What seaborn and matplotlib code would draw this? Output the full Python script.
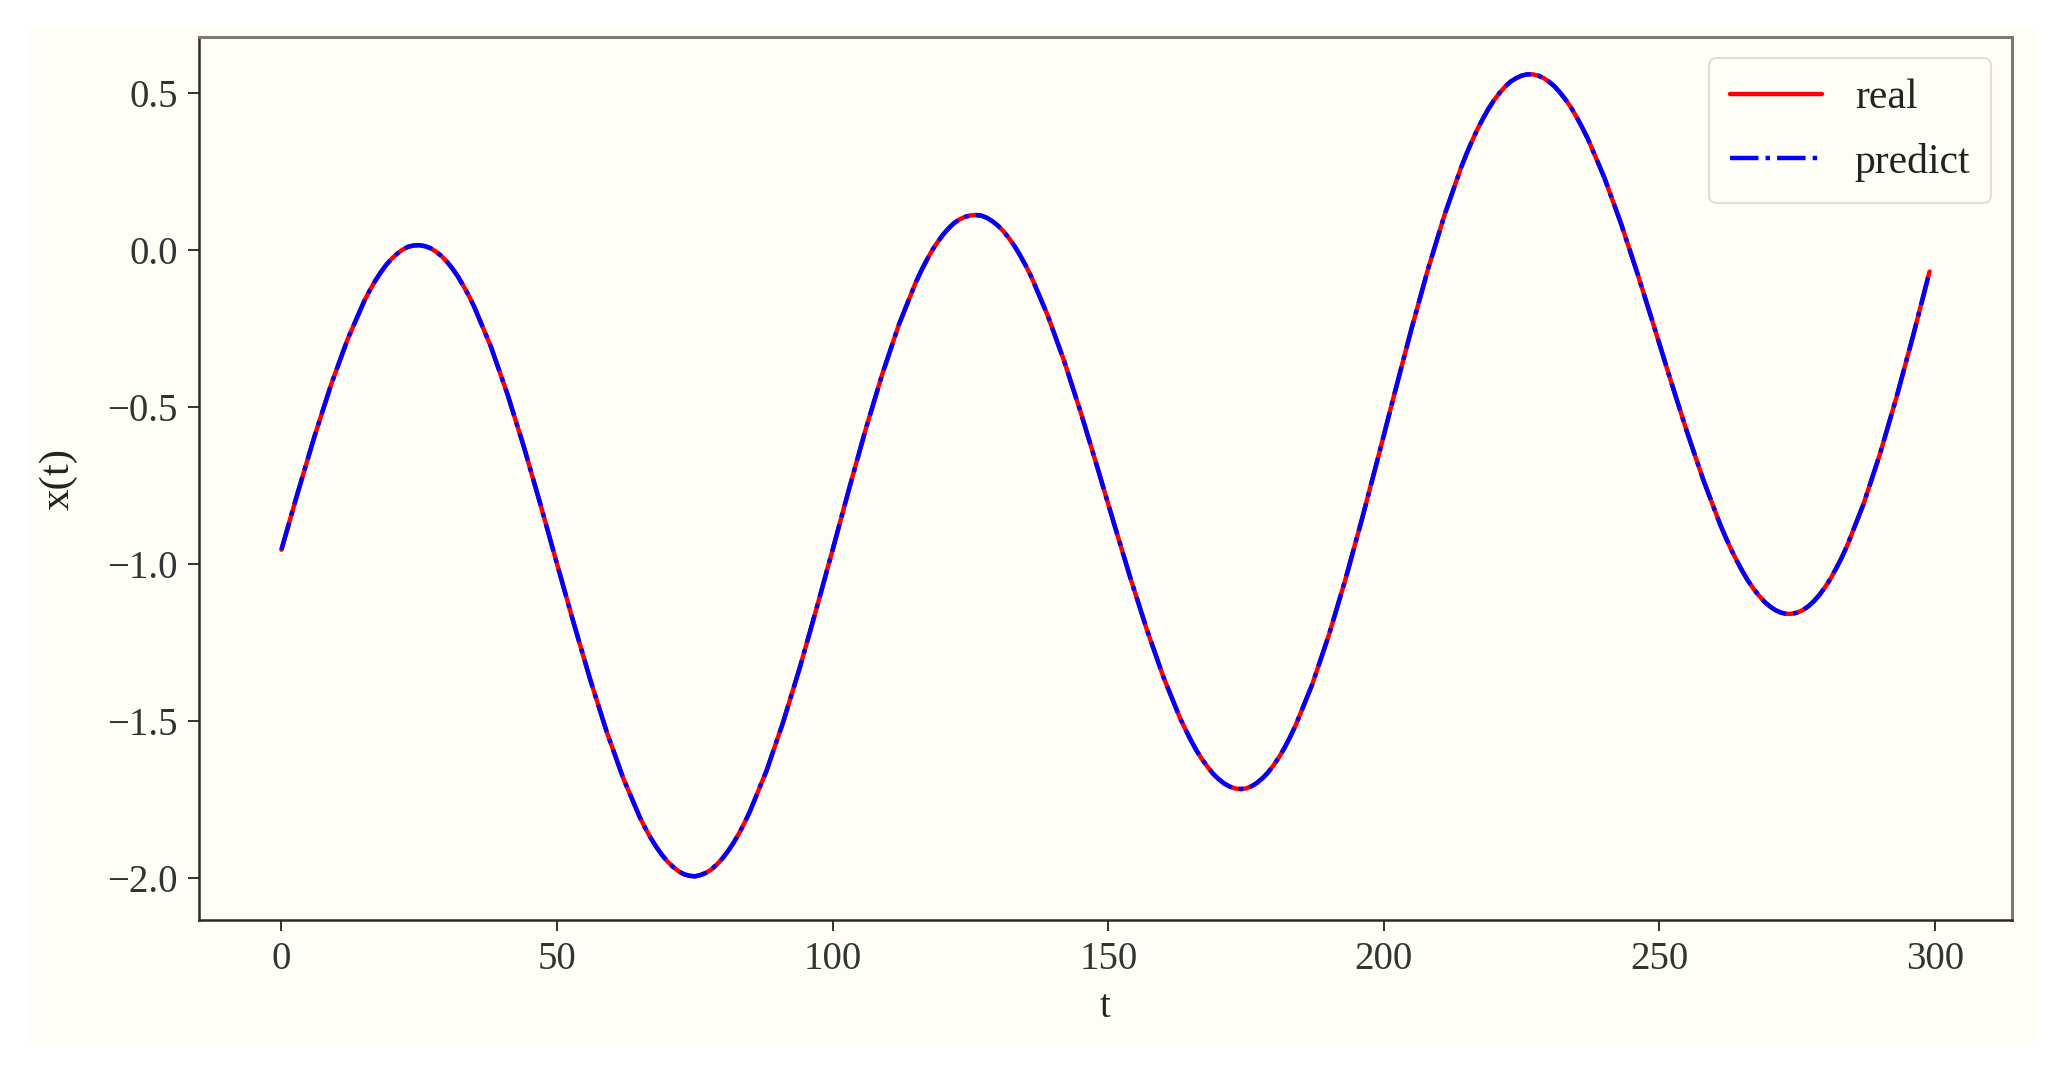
import matplotlib
matplotlib.use("Agg")
import matplotlib.pyplot as plt
from matplotlib.patches import Rectangle
import seaborn as sns
import pandas as pd

# ---- data (denser readings near the turning points) ----
t_values = [0, 3, 6, 9, 12,
            15, 16, 17, 18, 19, 20, 21, 22, 23, 24, 25, 26, 27, 28, 29, 30, 31, 32, 33, 34, 35,
            38, 41, 44, 47, 50, 53, 56, 59, 62,
            65, 66, 67, 68, 69, 70, 71, 72, 73, 74, 75, 76, 77, 78, 79, 80, 81, 82, 83, 84, 85,
            88, 91, 94, 97, 100, 103, 106, 109, 112,
            115, 116, 117, 118, 119, 120, 121, 122, 123, 124, 125, 126, 127, 128, 129, 130, 131, 132, 133, 134, 135, 136,
            139, 142, 145, 148, 151, 154, 157, 160, 163,
            164, 165, 166, 167, 168, 169, 170, 171, 172, 173, 174, 175, 176, 177, 178, 179, 180, 181, 182, 183, 184,
            187, 190, 193, 196, 199, 202, 205, 208, 211, 214,
            215, 216, 217, 218, 219, 220, 221, 222, 223, 224, 225, 226, 227, 228, 229, 230, 231, 232, 233, 234, 235, 236, 237,
            240, 243, 246, 249, 252, 255, 258, 261,
            262, 263, 264, 265, 266, 267, 268, 269, 270, 271, 272, 273, 274, 275, 276, 277, 278, 279, 280, 281, 282, 283, 284,
            287, 290, 293, 296, 299]

real_values = [-0.955, -0.771, -0.594, -0.430, -0.285,
               -0.164, -0.130, -0.099, -0.072, -0.048, -0.028, -0.012, 0.001, 0.010, 0.014, 0.015,
               0.012, 0.006, -0.005, -0.019, -0.037, -0.059, -0.084, -0.114, -0.146, -0.182,
               -0.308, -0.459, -0.628, -0.811, -1.000, -1.187, -1.367, -1.534, -1.682,
               -1.806, -1.841, -1.873, -1.901, -1.926, -1.947, -1.964, -1.978, -1.988, -1.993, -1.995,
               -1.991, -1.984, -1.973, -1.957, -1.938, -1.915, -1.889, -1.859, -1.825, -1.788,
               -1.659, -1.505, -1.333, -1.147, -0.955, -0.760, -0.571, -0.396, -0.239,
               -0.107, -0.069, -0.035, -0.003, 0.024, 0.048, 0.068, 0.085, 0.097, 0.105, 0.110,
               0.111, 0.109, 0.102, 0.091, 0.077, 0.059, 0.037, 0.012, -0.017, -0.049, -0.084,
               -0.208, -0.354, -0.517, -0.691, -0.869, -1.044, -1.209, -1.360, -1.490,
               -1.527, -1.562, -1.594, -1.622, -1.646, -1.668, -1.685, -1.699, -1.709, -1.715, -1.717,
               -1.715, -1.708, -1.697, -1.682, -1.664, -1.641, -1.615, -1.585, -1.551, -1.514,
               -1.384, -1.228, -1.051, -0.859, -0.658, -0.453, -0.252, -0.062, 0.111, 0.262,
               0.306, 0.347, 0.385, 0.419, 0.450, 0.477, 0.500, 0.520, 0.536, 0.547, 0.555,
               0.559, 0.559, 0.555, 0.547, 0.535, 0.520, 0.500, 0.478, 0.452, 0.422, 0.389, 0.354,
               0.230, 0.085, -0.075, -0.243, -0.414, -0.580, -0.735, -0.874,
               -0.915, -0.954, -0.989, -1.022, -1.052, -1.078, -1.100, -1.120, -1.135, -1.147, -1.155,
               -1.159, -1.159, -1.155, -1.147, -1.135, -1.119, -1.099, -1.075, -1.048, -1.016, -0.982, -0.944,
               -0.810, -0.650, -0.469, -0.274, -0.069]

predict_values = list(real_values)  # prediction coincides with the real curve

series_labels = ["real", "predict"]
x_label = "t"
y_label = "x(t)"

# ---- style ----
CREAM = "#fefdf6"
sns.set_style("ticks")
plt.rcParams["font.family"] = ["Liberation Serif", "DejaVu Serif"]
plt.rcParams["axes.unicode_minus"] = True

fig = plt.figure(figsize=(20.64, 10.77), dpi=100, facecolor="white")
bg = Rectangle((30 / 2064, 30 / 1077), (2038 - 30) / 2064, (1047 - 27) / 1077,
               transform=fig.transFigure, facecolor=CREAM, edgecolor="none", zorder=-10)
fig.add_artist(bg)

ax = fig.add_axes([199 / 2064, 1 - 920 / 1077, (2012 - 199) / 2064, (920 - 37) / 1077])
ax.set_zorder(1)
ax.set_facecolor(CREAM)

df_real = pd.DataFrame({"t": t_values, "x": real_values})
df_pred = pd.DataFrame({"t": t_values, "x": predict_values})

sns.lineplot(data=df_real, x="t", y="x", color="red", linewidth=3.2,
             label=series_labels[0], ax=ax)
sns.lineplot(data=df_pred, x="t", y="x", color="blue", linewidth=3.2, linestyle="-.",
             label=series_labels[1], ax=ax)

ax.set_xlim(-14.95, 313.95)
ax.set_ylim(-2.134, 0.678)
ax.set_xticks([0, 50, 100, 150, 200, 250, 300])
ax.set_yticks([-2.0, -1.5, -1.0, -0.5, 0.0, 0.5])

ax.set_xlabel(x_label, fontsize=28, color="#222222", labelpad=8)
ax.set_ylabel(y_label, fontsize=31, color="#222222")
ax.yaxis.set_label_coords(-0.067, 0.5)

ax.tick_params(axis="both", labelsize=28, length=7.7, width=1.3, pad=7.5,
               color="#222222", labelcolor="#333333")

for side in ["left", "bottom"]:
    ax.spines[side].set_color("#2a2a2a")
    ax.spines[side].set_linewidth(1.8)
for side in ["top", "right"]:
    ax.spines[side].set_color("#7d7a74")
    ax.spines[side].set_linewidth(2.2)

leg = ax.legend(loc="upper right", fontsize=30, frameon=True, fancybox=True,
                handlelength=2.2, borderaxespad=0.5, labelspacing=0.62, borderpad=0.5)
leg.get_frame().set_facecolor(CREAM)
leg.get_frame().set_edgecolor("#e2ddd6")
leg.get_frame().set_alpha(1.0)
leg.get_frame().set_linewidth(1.5)
for txt in leg.get_texts():
    txt.set_color("#222222")

fig.savefig("out.png", dpi=100, facecolor="white")
